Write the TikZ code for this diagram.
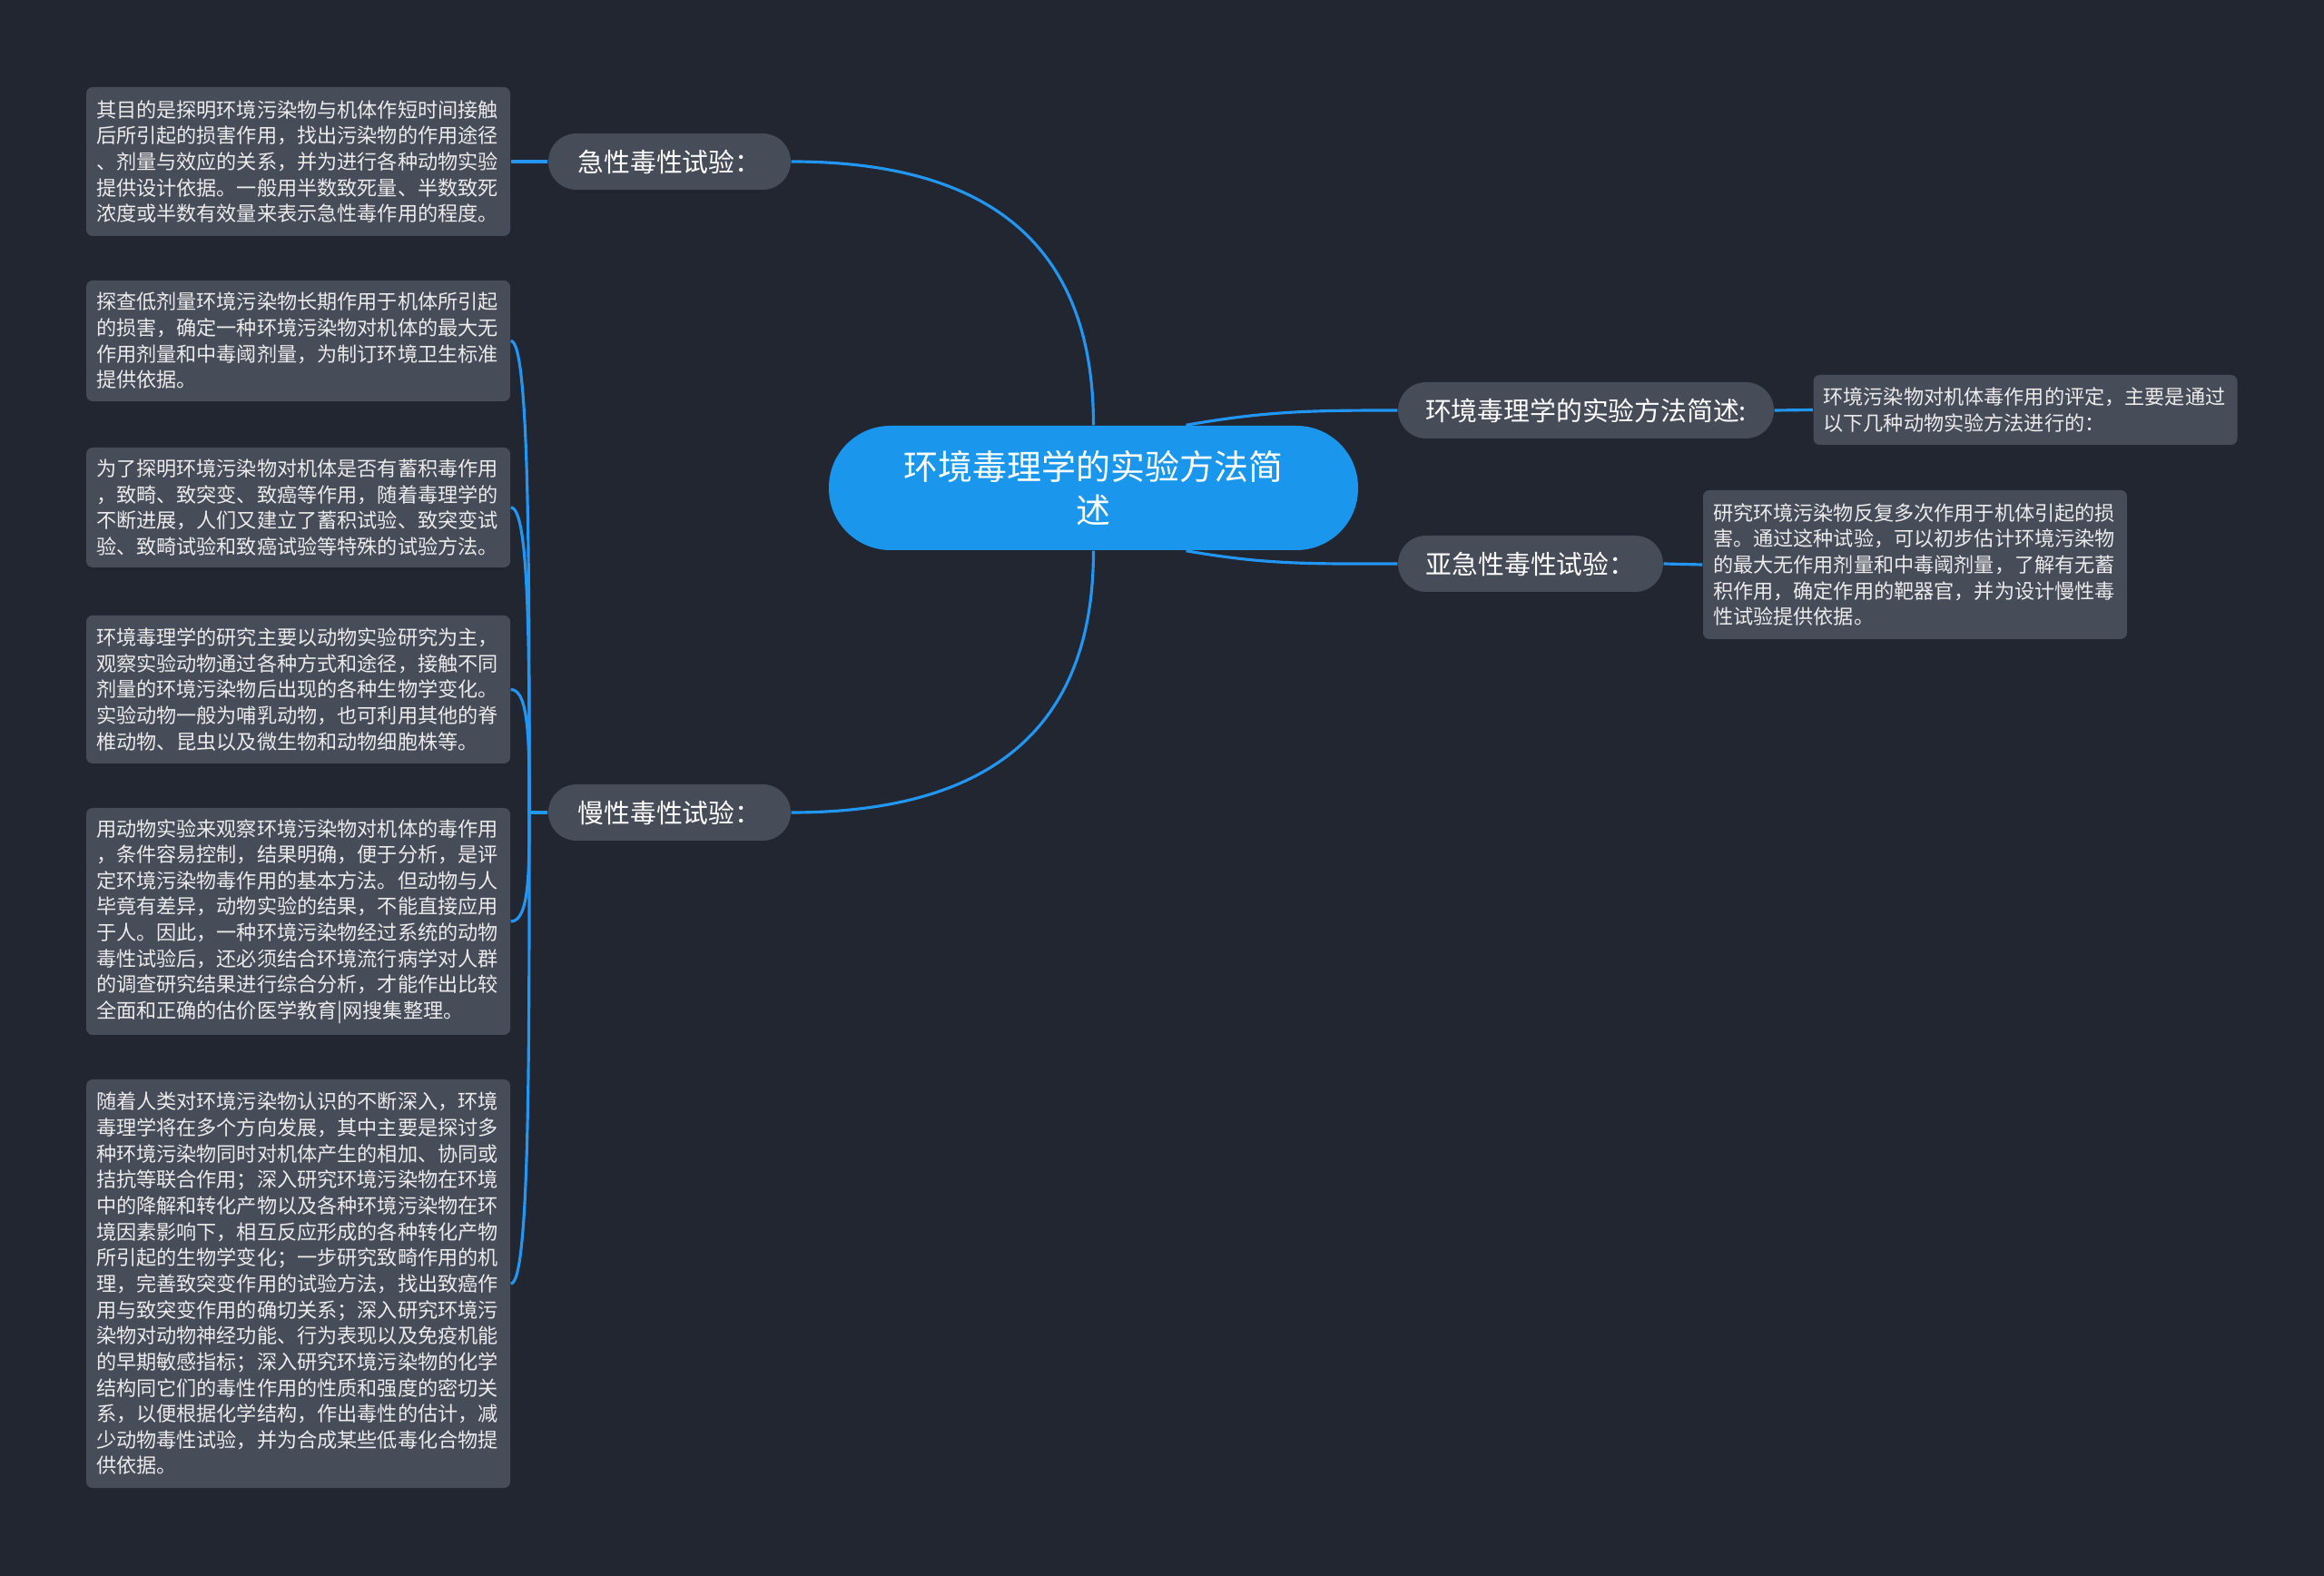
\documentclass[tikz,border=0pt]{standalone}
\usepackage{fontspec}
\setmainfont{Noto Sans CJK SC}
\definecolor{bgdark}{HTML}{222631}
\definecolor{cardgray}{HTML}{474C59}
\definecolor{rootblue}{HTML}{1A97EC}
\definecolor{linkblue}{HTML}{2196F3}
\tikzset{
  topic/.style={fill=cardgray, text=white, rounded corners=0.31cm, minimum height=0.62cm, inner sep=0pt, font=\fontsize{8.2pt}{9.6pt}\selectfont},
  note/.style={fill=cardgray, text=white!92!black, rounded corners=0.07cm, text width=4.45cm, align=left, inner xsep=0.11cm, inner ysep=0pt, font=\fontsize{6.3pt}{8.15pt}\selectfont},
  link/.style={draw=linkblue, line width=0.9pt}
}

\begin{document}
\begin{tikzpicture}
\fill[bgdark] (0,0) rectangle (25.6,-17.36);

% centre
\node[fill=rootblue, text=white, rounded corners=0.68cm, minimum width=5.83cm, minimum height=1.37cm, align=center, font=\fontsize{10.8pt}{13.9pt}\selectfont] (root) at (12.045,-5.375) {环境毒理学的实验方法简\\述};

% branches
\node[topic, minimum width=2.67cm] (acute) at (7.375,-1.78) {急性毒性试验：};
\node[topic, minimum width=2.67cm] (chronic) at (7.375,-8.95) {慢性毒性试验：};
\node[topic, minimum width=4.14cm] (intro) at (17.47,-4.52) {环境毒理学的实验方法简述:};
\node[topic, minimum width=2.92cm] (subacute) at (16.86,-6.21) {亚急性毒性试验：};

% notes
\node[note, minimum height=1.64cm] (b1) at (3.285,-1.78) {其目的是探明环境污染物与机体作短时间接触\\后所引起的损害作用，找出污染物的作用途径\\、剂量与效应的关系，并为进行各种动物实验\\提供设计依据。一般用半数致死量、半数致死\\浓度或半数有效量来表示急性毒作用的程度。};
\node[note, minimum height=1.33cm] (b2) at (3.285,-3.755) {探查低剂量环境污染物长期作用于机体所引起\\的损害，确定一种环境污染物对机体的最大无\\作用剂量和中毒阈剂量，为制订环境卫生标准\\提供依据。};
\node[note, minimum height=1.32cm] (b3) at (3.285,-5.59) {为了探明环境污染物对机体是否有蓄积毒作用\\，致畸、致突变、致癌等作用，随着毒理学的\\不断进展，人们又建立了蓄积试验、致突变试\\验、致畸试验和致癌试验等特殊的试验方法。};
\node[note, minimum height=1.63cm] (b4) at (3.285,-7.595) {环境毒理学的研究主要以动物实验研究为主，\\观察实验动物通过各种方式和途径，接触不同\\剂量的环境污染物后出现的各种生物学变化。\\实验动物一般为哺乳动物，也可利用其他的脊\\椎动物、昆虫以及微生物和动物细胞株等。};
\node[note, minimum height=2.50cm] (b5) at (3.285,-10.15) {用动物实验来观察环境污染物对机体的毒作用\\，条件容易控制，结果明确，便于分析，是评\\定环境污染物毒作用的基本方法。但动物与人\\毕竟有差异，动物实验的结果，不能直接应用\\于人。因此，一种环境污染物经过系统的动物\\毒性试验后，还必须结合环境流行病学对人群\\的调查研究结果进行综合分析，才能作出比较\\全面和正确的估价医学教育|网搜集整理。};
\node[note, minimum height=4.50cm] (b6) at (3.285,-14.14) {随着人类对环境污染物认识的不断深入，环境\\毒理学将在多个方向发展，其中主要是探讨多\\种环境污染物同时对机体产生的相加、协同或\\拮抗等联合作用；深入研究环境污染物在环境\\中的降解和转化产物以及各种环境污染物在环\\境因素影响下，相互反应形成的各种转化产物\\所引起的生物学变化；一步研究致畸作用的机\\理，完善致突变作用的试验方法，找出致癌作\\用与致突变作用的确切关系；深入研究环境污\\染物对动物神经功能、行为表现以及免疫机能\\的早期敏感指标；深入研究环境污染物的化学\\结构同它们的毒性作用的性质和强度的密切关\\系，以便根据化学结构，作出毒性的估计，减\\少动物毒性试验，并为合成某些低毒化合物提\\供依据。};
\node[note, minimum height=0.77cm] (r1) at (22.31,-4.515) {环境污染物对机体毒作用的评定，主要是通过\\以下几种动物实验方法进行的：};
\node[note, minimum height=1.64cm] (r2) at (21.095,-6.22) {研究环境污染物反复多次作用于机体引起的损\\害。通过这种试验，可以初步估计环境污染物\\的最大无作用剂量和中毒阈剂量，了解有无蓄\\积作用，确定作用的靶器官，并为设计慢性毒\\性试验提供依据。};

% links
\coordinate (hub) at (5.83,-8.95);
\draw[link] (root.north) to[out=90, in=0, looseness=1.2] (acute.east);
\draw[link] (root.south) to[out=-90, in=0, looseness=1.2] (chronic.east);
\draw[link] ([xshift=1.02cm]root.north) to[out=10, in=180] (intro.west);
\draw[link] ([xshift=1.02cm]root.south) to[out=-10, in=180] (subacute.west);
\draw[link] (intro.east) -- (r1.west);
\draw[link] (subacute.east) -- (r2.west);
\draw[link] (acute.west) -- (b1.east);
\draw[link] (chronic.west) -- (hub);
\draw[link] (b2.east) .. controls +(0.21,0) and +(0,2.6) .. (hub);
\draw[link] (b3.east) .. controls +(0.21,0) and +(0,1.7) .. (hub);
\draw[link] (b4.east) .. controls +(0.21,0) and +(0,0.7) .. (hub);
\draw[link] (b5.east) .. controls +(0.21,0) and +(0,-0.6) .. (hub);
\draw[link] (b6.east) .. controls +(0.21,0) and +(0,-2.6) .. (hub);
\end{tikzpicture}
\end{document}
